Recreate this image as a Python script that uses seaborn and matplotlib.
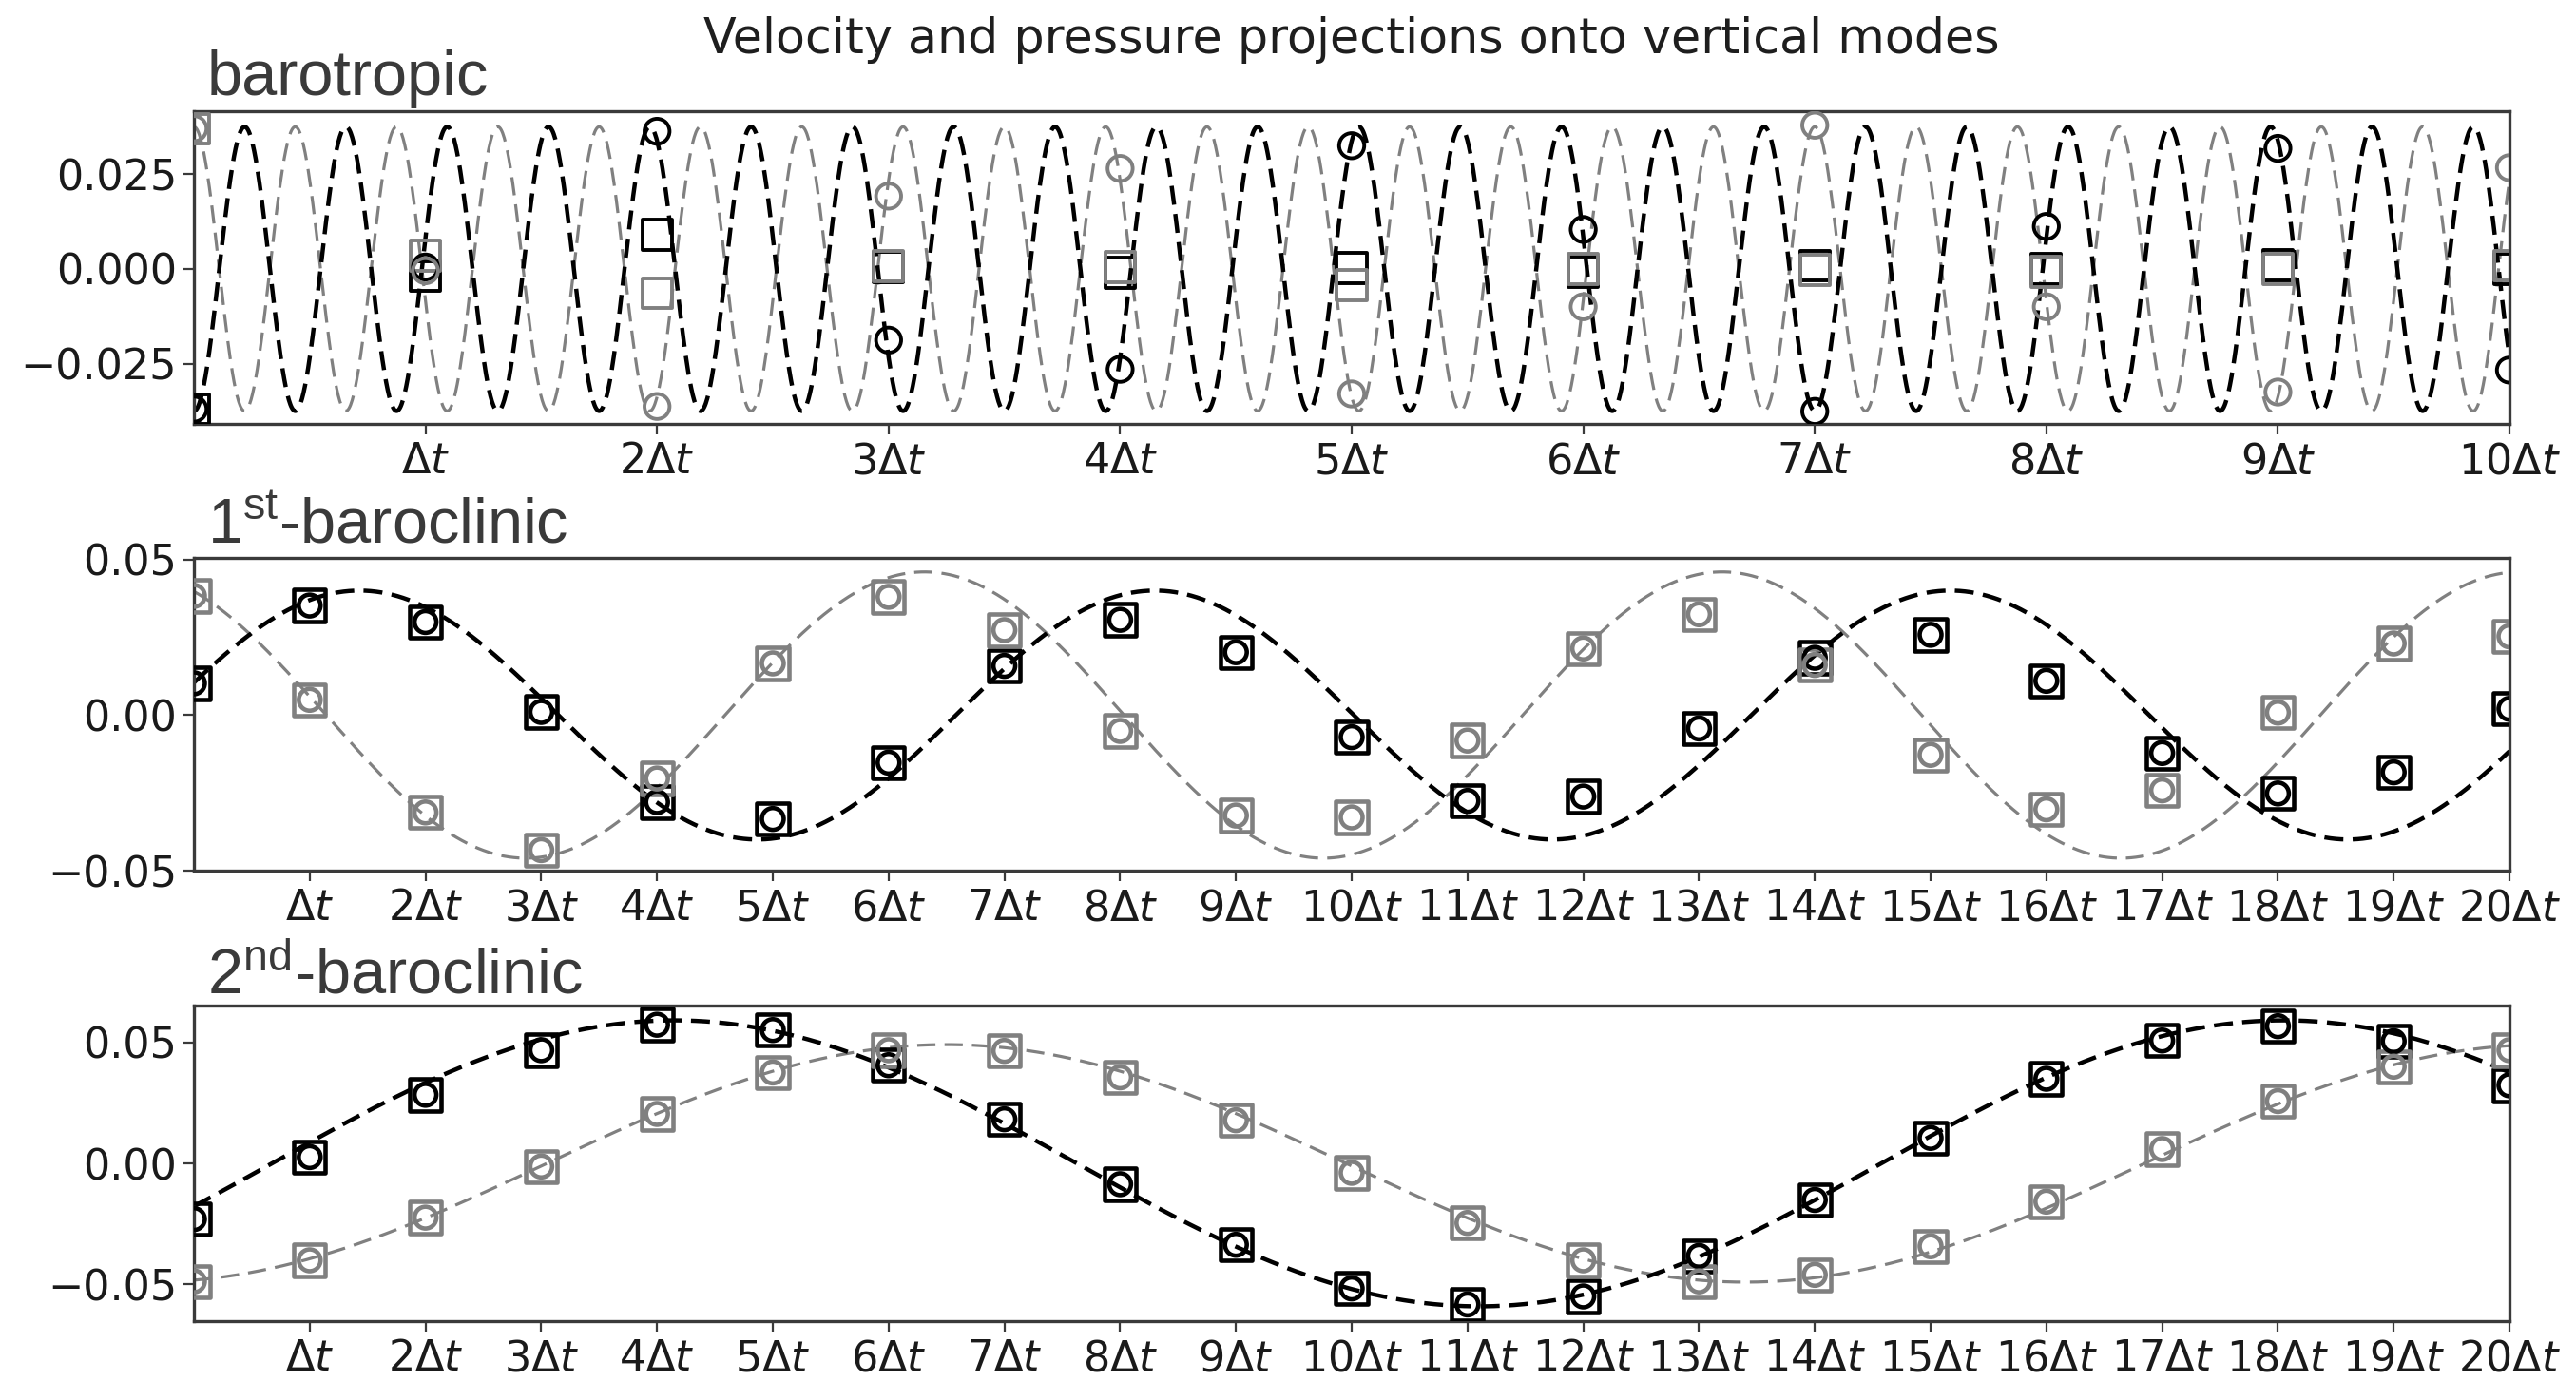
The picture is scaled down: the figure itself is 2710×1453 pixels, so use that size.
import numpy as np
import pandas as pd
import matplotlib
matplotlib.use("Agg")
import matplotlib.pyplot as plt
import seaborn as sns

# ---------------- data ----------------
t_baro = list(range(0, 11))          # sample times, barotropic panel (units of Δt)
t_bc = list(range(0, 21))            # sample times, baroclinic panels

# barotropic mode: circles (velocity) and squares (pressure)
baro_black_circ = [-0.0370, 0.0005, 0.0363, -0.0188, -0.0265, 0.0325, 0.0104, -0.0376, 0.0112, 0.0318, -0.0267]
baro_gray_circ = [0.0370, -0.0005, -0.0363, 0.0192, 0.0265, -0.0330, -0.0100, 0.0379, -0.0100, -0.0325, 0.0267]
baro_black_sq = [-0.0370, -0.0020, 0.0090, 0.0005, -0.0010, 0.0002, -0.0008, 0.0008, 0.0000, 0.0010, 0.0000]
baro_gray_sq = [0.0370, 0.0035, -0.0064, 0.0007, 0.0005, -0.0043, 0.0000, -0.0003, -0.0008, 0.0000, 0.0008]

# 1st baroclinic mode (circles and squares coincide)
bc1_black = [0.0102, 0.0352, 0.0299, 0.0010, -0.0280, -0.0334, -0.0153, 0.0158, 0.0306, 0.0202, -0.0071,
             -0.0276, -0.0262, -0.0043, 0.0184, 0.0258, 0.0110, -0.0122, -0.0252, -0.0184, 0.0020]
bc1_gray = [0.0383, 0.0049, -0.0313, -0.0434, -0.0204, 0.0166, 0.0380, 0.0273, -0.0051, -0.0323, -0.0329,
            -0.0082, 0.0214, 0.0324, 0.0161, -0.0128, -0.0303, -0.0242, 0.0008, 0.0230, 0.0253]

# 2nd baroclinic mode
bc2_black = [-0.0230, 0.0026, 0.0283, 0.0467, 0.0572, 0.0550, 0.0405, 0.0182, -0.0086, -0.0336, -0.0516,
             -0.0582, -0.0549, -0.0382, -0.0151, 0.0105, 0.0349, 0.0507, 0.0566, 0.0504, 0.0322]
bc2_gray = [-0.0487, -0.0400, -0.0224, -0.0013, 0.0204, 0.0375, 0.0467, 0.0464, 0.0355, 0.0178, -0.0039,
            -0.0246, -0.0400, -0.0487, -0.0460, -0.0342, -0.0158, 0.0059, 0.0257, 0.0399, 0.0467]

# dashed reference waves: [amplitude, period (Δt), time of a crest (Δt)]
baro_black_wave = [0.0375, 0.4375, 0.219]
baro_gray_wave = [0.0375, 0.4375, 0.0]
bc1_black_wave = [0.040, 6.87, 1.43]
bc1_gray_wave = [0.046, 6.89, -0.58]
bc2_black_wave = [0.059, 13.9, 4.15]
bc2_gray_wave = [0.049, 13.8, 6.5]

title = "Velocity and pressure projections onto vertical modes"
panel_labels = ["barotropic", r"1$^{\mathrm{st}}$-baroclinic", r"2$^{\mathrm{nd}}$-baroclinic"]
baro_ticks = list(range(1, 11))
bc_ticks = list(range(1, 21))
baro_yticks = [-0.025, 0.0, 0.025]
bc_yticks = [-0.05, 0.0, 0.05]

# ---------------- style ----------------
sns.set_theme(style="ticks")
plt.rcParams["font.family"] = ["DejaVu Sans"]
plt.rcParams["mathtext.fontset"] = "dejavusans"
plt.rcParams["mathtext.rm"] = "Liberation Sans"
plt.rcParams["mathtext.it"] = "Liberation Sans:italic"
plt.rcParams["mathtext.bf"] = "Liberation Sans:bold"

BLACK = "#000000"
GRAY = "#808080"
SPINE = "#3a3a3a"


def wave_frame(wave, tmax, n=3000):
    amp, per, crest = wave
    t = np.linspace(0, tmax, n)
    return pd.DataFrame({"t": t, "v": amp * np.cos(2 * np.pi * (t - crest) / per)})


def tick_label(k):
    return r"$\Delta t$" if k == 1 else r"$%d\Delta t$" % k


fig = plt.figure(figsize=(27.10, 14.53), dpi=100)

L, W = 204 / 2710, 2436 / 2710
ax_top = fig.add_axes([L, 1 - 446 / 1453, W, 329 / 1453])
ax_mid = fig.add_axes([L, 1 - 916 / 1453, W, 329 / 1453])
ax_bot = fig.add_axes([L, 1 - 1390 / 1453, W, 332 / 1453])

panels = [
    dict(ax=ax_top, t=t_baro, tmax=10, waves=(baro_black_wave, baro_gray_wave),
         bc=baro_black_circ, gc=baro_gray_circ, bs=baro_black_sq, gs=baro_gray_sq,
         ticks=baro_ticks, yticks=baro_yticks, fmt="%.3f", ylim=(-0.0409, 0.0416),
         sq=22.5, ci=19.0, mew=2.8),
    dict(ax=ax_mid, t=t_bc, tmax=20, waves=(bc1_black_wave, bc1_gray_wave),
         bc=bc1_black, gc=bc1_gray, bs=bc1_black, gs=bc1_gray,
         ticks=bc_ticks, yticks=bc_yticks, fmt="%.2f", ylim=(-0.0500, 0.0505),
         sq=24.0, ci=16.5, mew=3.3),
    dict(ax=ax_bot, t=t_bc, tmax=20, waves=(bc2_black_wave, bc2_gray_wave),
         bc=bc2_black, gc=bc2_gray, bs=bc2_black, gs=bc2_gray,
         ticks=bc_ticks, yticks=bc_yticks, fmt="%.2f", ylim=(-0.0651, 0.0651),
         sq=24.0, ci=16.5, mew=3.3),
]

for p in panels:
    ax = p["ax"]
    bw, gw = p["waves"]
    dfb = wave_frame(bw, p["tmax"])
    dfg = wave_frame(gw, p["tmax"])
    sns.lineplot(data=dfg, x="t", y="v", ax=ax, color=GRAY, lw=2.3,
                 linestyle=(0, (6.0, 3.0)), sort=False, estimator=None, zorder=2)
    sns.lineplot(data=dfb, x="t", y="v", ax=ax, color=BLACK, lw=3.2,
                 linestyle=(0, (4.5, 2.2)), sort=False, estimator=None, zorder=2)

    for vals, col, mk, size in [(p["bs"], BLACK, "s", p["sq"]), (p["gs"], GRAY, "s", p["sq"]),
                                (p["bc"], BLACK, "o", p["ci"]), (p["gc"], GRAY, "o", p["ci"])]:
        sns.scatterplot(x=p["t"], y=vals, ax=ax, marker=mk, s=size ** 2,
                        facecolors="none", edgecolor=col, linewidth=p["mew"], zorder=3)

    ax.set_xlim(0, p["tmax"])
    ax.set_ylim(*p["ylim"])
    ax.set_xticks(p["ticks"])
    ax.set_xticklabels([tick_label(k) for k in p["ticks"]])
    ax.set_yticks(p["yticks"])
    ax.set_yticklabels([(p["fmt"] % v).replace("-", "\u2212") for v in p["yticks"]])
    ax.set_xlabel("")
    ax.set_ylabel("")
    ax.tick_params(axis="both", direction="out", length=8, width=1.6, color=SPINE,
                   labelsize=32, labelcolor="#1a1a1a", pad=5)
    for s in ax.spines.values():
        s.set_visible(True)
        s.set_color(SPINE)
        s.set_linewidth(2.4)
    ax.set_facecolor("white")

fig.text(1422 / 2710, 1 - 56 / 1453, title, ha="center", va="baseline",
         fontsize=36.5, color="#1e1e1e")

label_y = [1 - 100 / 1453, 1 - 572 / 1453, 1 - 1045 / 1453]
for lab, y in zip(panel_labels, label_y):
    fig.text(218 / 2710, y, lab, ha="left", va="baseline", fontsize=48,
             family=["Liberation Sans", "DejaVu Sans"], math_fontfamily="custom",
             color="#3a3a3a")

fig.savefig("out.png", dpi=100, facecolor="white")
